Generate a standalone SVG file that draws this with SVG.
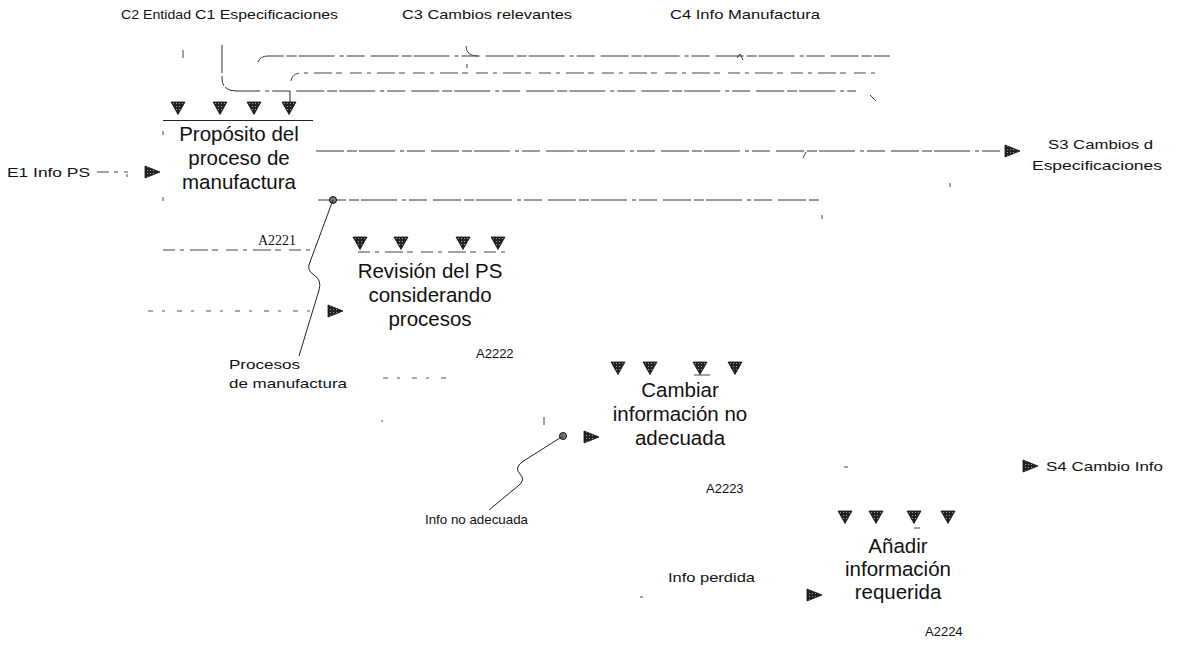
<svg xmlns="http://www.w3.org/2000/svg" width="1177" height="645" viewBox="0 0 1177 645">
  <defs>
    <style>
      .lbl { font-family: "Liberation Sans", Arial, sans-serif; font-size: 13.5px; fill: #111; }
      .ttl { font-family: "Liberation Sans", Arial, sans-serif; font-size: 20.5px; fill: #111; text-anchor: middle; }
      .num { font-family: "Liberation Sans", Arial, sans-serif; font-size: 13px; fill: #111; }
      .nums { font-family: "Liberation Serif", "Times New Roman", serif; font-size: 14px; fill: #111; }
      .ln { fill: none; stroke: #222; stroke-width: 1; }
      .dl { fill: none; stroke: #333; stroke-width: 1; stroke-dasharray: 28 3 10 2 36 5 4 3 18 6; }
      .dl2 { fill: none; stroke: #444; stroke-width: 1; stroke-dasharray: 12 5 4 6 18 4 6 8; }
      .sp { fill: none; stroke: #555; stroke-width: 1; stroke-dasharray: 5 9 3 12; }
      .tick { fill: none; stroke: #444; stroke-width: 1; }
      .head { fill: url(#grain); stroke: #111; stroke-width: 0.8; }
    </style>
    <pattern id="grain" width="3" height="3" patternUnits="userSpaceOnUse">
      <rect width="3" height="3" fill="#222"/>
      <rect x="1" y="1" width="1" height="1" fill="#999"/>
    </pattern>
    <path id="tdown" d="M-7,-6 L7,-6 L0,6.5 Z"/>
    <path id="tright" d="M-7,-6 L8,0 L-7,6 Z"/>
  </defs>

  <!-- control labels -->
  <g id="controls">
    <text class="lbl" x="121" y="19" textLength="70" lengthAdjust="spacingAndGlyphs">C2 Entidad</text>
    <text class="lbl" x="195" y="19" textLength="143" lengthAdjust="spacingAndGlyphs">C1 Especificaciones</text>
    <text class="lbl" x="402" y="19" textLength="170" lengthAdjust="spacingAndGlyphs">C3 Cambios relevantes</text>
    <text class="lbl" x="670" y="19" textLength="150" lengthAdjust="spacingAndGlyphs">C4 Info Manufactura</text>
  </g>

  <!-- connectors -->
  <g id="connectors">
    <!-- control bus lines -->
    <path class="tick" d="M183,50 V58"/>
    <path class="dl" d="M222,45 V78 Q222,91 236,91 H856"/>
    <path class="tick" d="M870,95 L876,101"/>
    <path class="dl" d="M258,62 Q260,56 268,56 H890"/>
    <path class="dl2" d="M291,81 Q292,73 302,73 H880"/>
    <path class="tick" d="M466,46 Q466,56 478,56"/>
    <path class="tick" d="M467,64 V68"/>
    <path class="tick" d="M737,58 L740,54 L743,60"/>
    <path class="ln" d="M290,91 V102"/>
    <!-- top bar of A2221 -->
    <path class="ln" d="M163,120.5 H313"/>

    <!-- E1 input -->
    <path class="dl2" d="M97,172 H128"/>
    <path class="tick" d="M127,174 V177"/>

    <!-- S3 output -->
    <path class="dl" d="M316,151 H1000"/>
    <path class="tick" d="M806,152 L803,158"/>
    <path class="tick" d="M950,183 V187"/>

    <!-- mechanism line from A2221 -->
    <path class="dl" d="M318,200 H820"/>
    <path class="tick" d="M822,215 V219"/>
    <circle cx="333" cy="200" r="3.5" fill="#777" stroke="#111" stroke-width="1"/>
    <path class="ln" d="M333,200 L310,262 Q306,270 314,275 Q322,280 319,290 L299,356"/>

    <!-- box edges / remnants -->
    <path class="tick" d="M163,131 V135"/>
    <path class="tick" d="M163,197 V201"/>
    <path class="dl2" d="M163,250 H310"/>
    <path class="dl2" d="M358,252 H505"/>

    <!-- input to A2222 -->
    <path class="sp" d="M148,311 H320"/>

    <path class="sp" d="M383,378 H446"/>
    <path class="tick" d="M382,420 V422"/>
    <path class="tick" d="M544,417 V425"/>
    <path class="tick" d="M694,375 H710"/>

    <!-- mechanism line into A2223 -->
    <circle cx="563" cy="436" r="3.5" fill="#777" stroke="#111" stroke-width="1"/>
    <path class="ln" d="M563,436 L522,462 Q514,468 520,474 Q526,480 518,486 L489,510"/>

    <!-- remnants near A2224 -->
    <path class="tick" d="M844,467 H848"/>
    <path class="tick" d="M914,528 H920"/>
    <path class="tick" d="M640,597 H643"/>
  </g>

  <!-- A2221 -->
  <g id="A2221">
    <use href="#tdown" class="head" x="178" y="108"/>
    <use href="#tdown" class="head" x="220" y="108"/>
    <use href="#tdown" class="head" x="254" y="108"/>
    <use href="#tdown" class="head" x="289" y="108"/>
    <use href="#tright" class="head" x="152" y="172"/>
    <text class="ttl" x="239" y="141">Propósito del</text>
    <text class="ttl" x="239" y="165">proceso de</text>
    <text class="ttl" x="239" y="189">manufactura</text>
    <text class="nums" x="258" y="245">A2221</text>
  </g>

  <!-- A2222 -->
  <g id="A2222">
    <use href="#tdown" class="head" x="360" y="243"/>
    <use href="#tdown" class="head" x="401" y="243"/>
    <use href="#tdown" class="head" x="463" y="243"/>
    <use href="#tdown" class="head" x="498" y="243"/>
    <use href="#tright" class="head" x="335" y="311"/>
    <text class="ttl" x="430" y="278">Revisión del PS</text>
    <text class="ttl" x="430" y="302">considerando</text>
    <text class="ttl" x="430" y="326">procesos</text>
    <text class="num" x="476" y="358">A2222</text>
  </g>

  <!-- A2223 -->
  <g id="A2223">
    <use href="#tdown" class="head" x="618" y="368"/>
    <use href="#tdown" class="head" x="650" y="368"/>
    <use href="#tdown" class="head" x="700" y="368"/>
    <use href="#tdown" class="head" x="735" y="368"/>
    <use href="#tright" class="head" x="591" y="437"/>
    <text class="ttl" x="680" y="397">Cambiar</text>
    <text class="ttl" x="680" y="421">información no</text>
    <text class="ttl" x="680" y="445">adecuada</text>
    <text class="num" x="706" y="493">A2223</text>
  </g>

  <!-- A2224 -->
  <g id="A2224">
    <use href="#tdown" class="head" x="845" y="517"/>
    <use href="#tdown" class="head" x="876" y="517"/>
    <use href="#tdown" class="head" x="914" y="517"/>
    <use href="#tdown" class="head" x="948" y="517"/>
    <use href="#tright" class="head" x="814" y="595"/>
    <text class="ttl" x="898" y="553">Añadir</text>
    <text class="ttl" x="898" y="576">información</text>
    <text class="ttl" x="898" y="599">requerida</text>
    <text class="num" x="925" y="636">A2224</text>
  </g>

  <!-- inputs, outputs and mechanisms -->
  <g id="E1">
    <text class="lbl" x="7" y="177" textLength="83" lengthAdjust="spacingAndGlyphs">E1 Info PS</text>
  </g>
  <g id="S3">
    <use href="#tright" class="head" x="1012" y="151"/>
    <text class="lbl" x="1048" y="149" textLength="105" lengthAdjust="spacingAndGlyphs">S3 Cambios d</text>
    <text class="lbl" x="1032" y="170" textLength="130" lengthAdjust="spacingAndGlyphs">Especificaciones</text>
  </g>
  <g id="S4">
    <use href="#tright" class="head" x="1030" y="466"/>
    <text class="lbl" x="1046" y="471" textLength="117" lengthAdjust="spacingAndGlyphs">S4 Cambio Info</text>
  </g>
  <g id="M1">
    <text class="lbl" x="229" y="369" textLength="71" lengthAdjust="spacingAndGlyphs">Procesos</text>
    <text class="lbl" x="229" y="388" textLength="118" lengthAdjust="spacingAndGlyphs">de manufactura</text>
  </g>
  <g id="M2">
    <text class="lbl" x="425" y="524" textLength="103" lengthAdjust="spacingAndGlyphs">Info no adecuada</text>
  </g>
  <g id="E2">
    <text class="lbl" x="668" y="582" textLength="87" lengthAdjust="spacingAndGlyphs">Info perdida</text>
  </g>
</svg>
